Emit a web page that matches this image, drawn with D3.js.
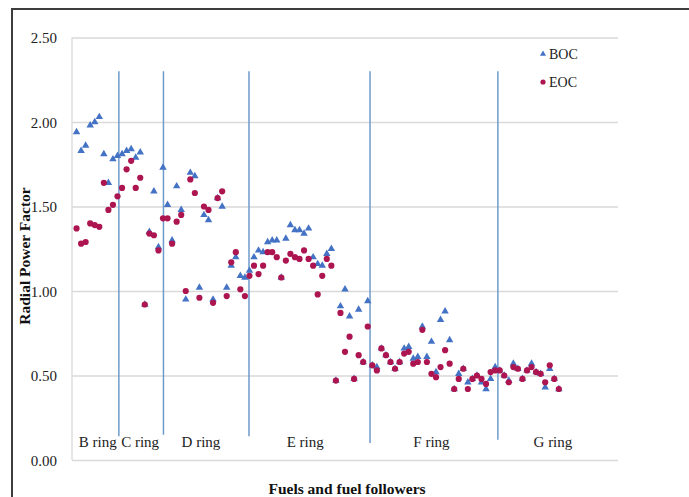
<!DOCTYPE html>
<html lang="en">
<head>
    <meta charset="UTF-8">
    <title>Radial Power Factor</title>
    <style>
        body { margin: 0; background: #fff; }
        svg { display: block; font-family: "Liberation Serif", "Times New Roman", serif; }
        .tick-label { font-size: 15px; fill: #222; }
        .ring-label { font-size: 15px; fill: #222; }
        .legend-label { font-size: 14px; fill: #222; }
        .axis-title { font-size: 15.5px; font-weight: bold; fill: #111; }
    </style>
</head>
<body>
    <div id="chart"></div>
    <script src="https://d3js.org/d3.v7.min.js"></script>
    <script>
        // fuel position index 1..107
        const boc = [
            1.94, 1.83, 1.86, 1.98, 2.00, 2.03, 1.81, 1.64, 1.78, 1.80,
            1.81, 1.83, 1.84, 1.79, 1.82, 0.92, 1.35, 1.59, 1.26, 1.73,
            1.51, 1.30, 1.62, 1.48, 0.95, 1.70, 1.68, 1.02, 1.45, 1.42,
            0.95, 1.55, 1.50, 1.02, 1.15, 1.20, 1.09, 1.08, 1.12, 1.20,
            1.24, 1.23, 1.29, 1.30, 1.30, 1.08, 1.31, 1.39, 1.36, 1.36,
            1.34, 1.37, 1.20, 1.16, 1.15, 1.22, 1.25, 0.47, 0.91, 1.01,
            0.85, 0.48, 0.89, 0.58, 0.94, 0.56, 0.55, 0.66, 0.62, 0.58,
            0.54, 0.58, 0.66, 0.67, 0.60, 0.61, 0.79, 0.61, 0.70, 0.52,
            0.83, 0.88, 0.71, 0.42, 0.51, 0.54, 0.46, 0.48, 0.50, 0.46,
            0.42, 0.48, 0.55, 0.53, 0.50, 0.47, 0.57, 0.54, 0.48, 0.53,
            0.57, 0.52, 0.51, 0.43, 0.54, 0.48, 0.42
        ];
        const eoc = [
            1.37, 1.28, 1.29, 1.40, 1.39, 1.38, 1.64, 1.48, 1.51, 1.56,
            1.61, 1.72, 1.77, 1.61, 1.67, 0.92, 1.34, 1.33, 1.24, 1.43,
            1.43, 1.28, 1.41, 1.45, 1.00, 1.66, 1.58, 0.96, 1.50, 1.48,
            0.93, 1.55, 1.59, 0.97, 1.17, 1.23, 1.01, 0.97, 1.09, 1.15,
            1.10, 1.15, 1.23, 1.23, 1.20, 1.08, 1.18, 1.22, 1.20, 1.19,
            1.24, 1.19, 1.15, 0.98, 1.09, 1.19, 1.15, 0.47, 0.87, 0.64,
            0.73, 0.48, 0.62, 0.58, 0.79, 0.56, 0.53, 0.66, 0.62, 0.58,
            0.54, 0.58, 0.63, 0.64, 0.57, 0.58, 0.77, 0.58, 0.51, 0.49,
            0.55, 0.65, 0.57, 0.42, 0.48, 0.54, 0.42, 0.48, 0.50, 0.48,
            0.45, 0.52, 0.53, 0.53, 0.50, 0.46, 0.55, 0.54, 0.48, 0.53,
            0.55, 0.52, 0.51, 0.46, 0.56, 0.48, 0.42
        ];

        const yTicks = [0, 0.5, 1.0, 1.5, 2.0, 2.5];
        const rings = ["B ring", "C ring", "D ring", "E ring", "F ring", "G ring"];
        const ringCenters = [5.65, 14.97, 28.35, 51.25, 79.0, 105.7];
        const dividers = [10.3, 20.1, 38.9, 65.5, 93.6];
        const dividerBottoms = [0.14, 0.15, 0.14, 0.10, 0.12];
        const dividerTop = 2.3;

        const W = 689, H = 497;
        const plotLeft = 72, plotRight = 618, plotTop = 37.5, plotBottom = 460;

        const svg = d3.select("#chart").append("svg")
            .attr("width", W)
            .attr("height", H);

        const x = d3.scaleLinear().domain([0, 120]).range([plotLeft, plotRight]);
        const y = d3.scaleLinear().domain([0, 2.5]).range([plotBottom, plotTop]);

        // outer frame (top and left only)
        svg.append("path")
            .attr("d", `M12,${H} L12,9 L${W},9`)
            .attr("fill", "none")
            .attr("stroke", "#3d3d3d")
            .attr("stroke-width", 2);

        // gridlines
        svg.append("g")
            .attr("transform", `translate(${plotLeft},0)`)
            .call(d3.axisLeft(y).tickValues(yTicks).tickSize(-(plotRight - plotLeft)).tickFormat(""))
            .call(g => g.select(".domain").remove())
            .call(g => g.selectAll("line").attr("stroke", "#d9d9d9").attr("stroke-width", 1.3));

        // left plot edge
        svg.append("line")
            .attr("x1", plotLeft).attr("x2", plotLeft)
            .attr("y1", y(2.5)).attr("y2", y(0))
            .attr("stroke", "#d9d9d9").attr("stroke-width", 1.3);

        // y tick labels
        svg.append("g")
            .attr("transform", `translate(${plotLeft - 15},0)`)
            .call(d3.axisLeft(y).tickValues(yTicks).tickSize(0).tickFormat(d3.format(".2f")))
            .attr("font-family", null)
            .attr("font-size", null)
            .call(g => g.select(".domain").remove())
            .call(g => g.selectAll("text")
                .attr("class", "tick-label")
                .attr("x", 0)
                .attr("dy", "0.35em"));

        // ring dividers
        svg.selectAll("line.divider")
            .data(dividers)
            .enter()
            .append("line")
            .attr("class", "divider")
            .attr("x1", d => x(d))
            .attr("x2", d => x(d))
            .attr("y1", y(dividerTop))
            .attr("y2", (d, i) => y(dividerBottoms[i]))
            .attr("stroke", "#6f9bcc")
            .attr("stroke-width", 1.5);

        // ring labels
        svg.selectAll("text.ring-label")
            .data(rings)
            .enter()
            .append("text")
            .attr("class", "ring-label")
            .attr("x", (d, i) => x(ringCenters[i]))
            .attr("y", 447)
            .attr("text-anchor", "middle")
            .text(d => d);

        const bocColor = "#4472c4";
        const eocColor = "#ad1550";

        const tri = d3.symbol().type(d3.symbolTriangle).size(24);

        svg.append("g")
            .selectAll("path")
            .data(boc)
            .enter()
            .append("path")
            .attr("d", tri)
            .attr("transform", (d, i) => `translate(${x(i + 1)},${y(d)})`)
            .attr("fill", bocColor);

        svg.append("g")
            .selectAll("circle")
            .data(eoc)
            .enter()
            .append("circle")
            .attr("cx", (d, i) => x(i + 1))
            .attr("cy", d => y(d))
            .attr("r", 3.1)
            .attr("fill", eocColor);

        // legend
        const legend = [
            { name: "BOC", color: bocColor, shape: "tri" },
            { name: "EOC", color: eocColor, shape: "circle" }
        ];
        const lg = svg.append("g").attr("transform", "translate(543,54)");
        legend.forEach((d, i) => {
            const row = lg.append("g").attr("transform", `translate(0,${i * 28})`);
            if (d.shape === "tri") {
                row.append("path").attr("d", d3.symbol().type(d3.symbolTriangle).size(16)).attr("fill", d.color);
            } else {
                row.append("circle").attr("r", 2.6).attr("fill", d.color);
            }
            row.append("text")
                .attr("class", "legend-label")
                .attr("x", 6)
                .attr("y", 4.5)
                .text(d.name);
        });

        // axis titles
        svg.append("text")
            .attr("class", "axis-title")
            .attr("text-anchor", "middle")
            .attr("transform", "translate(30,256) rotate(-90)")
            .text("Radial Power Factor");

        svg.append("text")
            .attr("class", "axis-title")
            .attr("text-anchor", "middle")
            .attr("x", 347)
            .attr("y", 494)
            .text("Fuels and fuel followers");
    </script>
</body>
</html>
